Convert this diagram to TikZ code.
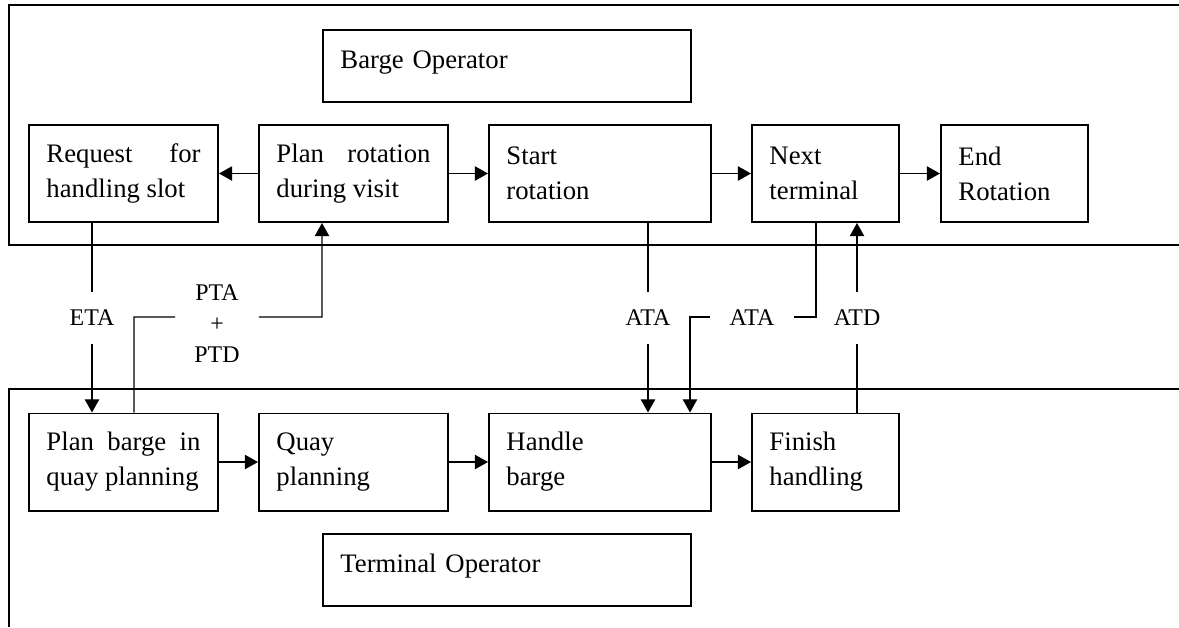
\documentclass[tikz,border=0pt]{standalone}
\usepackage{fontspec}
\setmainfont{Liberation Serif}
\usetikzlibrary{arrows.meta}

\begin{document}
\begin{tikzpicture}[x=0.025cm,y=-0.025cm,
    >={Triangle[length=0.33cm,width=0.36cm]},
    proc/.style={draw,line width=1.4pt,minimum height=2.425cm,inner xsep=0.4375cm,inner ysep=0pt,
        font=\fontsize{19}{24.9}\selectfont},
    procj/.style={proc,align=justify},
    procl/.style={proc,align=left},
    role/.style={draw,line width=1.4pt,anchor=north west,text width=8.325cm,align=left,
        inner xsep=0.4375cm,inner ysep=0pt,text height=0.95cm,text depth=0.85cm,
        font=\fontsize{19}{24.9}\selectfont},
    msg/.style={inner xsep=0.475cm,minimum height=1.275cm,align=center,
        font=\fontsize{17}{22}\selectfont},
    link/.style={line width=0.95pt}]
    \useasboundingbox (0,0) rectangle (1179,627);

    % swimlanes
    \draw[link] (1179,5) -- (9,5) -- (9,245) -- (1179,245);
    \draw[link] (1179,389) -- (9,389) -- (9,627);

    \node[role] (bop) at (322,29) {Barge Operator};
    \node[role] (top) at (322,533) {Terminal Operator};

    % barge operator
    \node[procj,text width=3.85cm] (req) at (123.5,173.5) {Request for handling slot};
    \node[procj,text width=3.85cm] (pr) at (353.5,173.5) {Plan rotation during visit};
    \node[procl,text width=4.675cm] (sr) at (600,173.5) {Start\\rotation};
    \node[procl,text width=2.8cm] (nt) at (825.5,173.5) {Next\\terminal};
    \node[procl,text width=2.8cm] (er) at (1014.5,173.5) {End\\Rotation};

    % terminal operator
    \node[procj,text width=3.85cm] (pbq) at (123.5,462) {Plan barge in quay planning};
    \node[procl,text width=3.85cm] (qp) at (353.5,462) {Quay\\planning};
    \node[procl,text width=4.675cm] (hb) at (600,462) {Handle\\barge};
    \node[procl,text width=2.8cm] (fh) at (825.5,462) {Finish\\handling};

    \draw[link,->] (pr) -- (req);
    \draw[link,->] (pr) -- (sr);
    \draw[link,->] (sr) -- (nt);
    \draw[link,->] (nt) -- (er);
    \draw[link,->] (pbq) -- (qp);
    \draw[link,->] (qp) -- (hb);
    \draw[link,->] (hb) -- (fh);

    % messages
    \node[msg] (eta) at (92,318) {ETA};
    \node[msg] (ptx) at (217,324) {PTA\\+\\PTD};
    \node[msg] (ata1) at (648,318) {ATA};
    \node[msg] (ata2) at (752,318) {ATA};
    \node[msg] (atd) at (857,318) {ATD};

    \coordinate (pbend) at (134,317);
    \coordinate (pup) at (322,317);
    \coordinate (nbend) at (816,317);
    \coordinate (hbend) at (690,317);

    \draw[link] (req.south -| eta) -- (eta);
    \draw[link,->] (eta) -- (pbq.north -| eta);
    \draw[link] (pbq.north -| pbend) -- (pbend) -- ([yshift=0.175cm]ptx.west);
    \draw[link,->] ([yshift=0.175cm]ptx.east) -- (pup) -- (pr.south -| pup);
    \draw[link] (sr.south -| ata1) -- (ata1);
    \draw[link,->] (ata1) -- (hb.north -| ata1);
    \draw[link] (nt.south -| nbend) -- (nbend) -- (nbend -| ata2.east);
    \draw[link,->] (hbend -| ata2.west) -- (hbend) -- (hb.north -| hbend);
    \draw[link] (fh.north -| atd) -- (atd);
    \draw[link,->] (atd) -- (nt.south -| atd);
\end{tikzpicture}
\end{document}
